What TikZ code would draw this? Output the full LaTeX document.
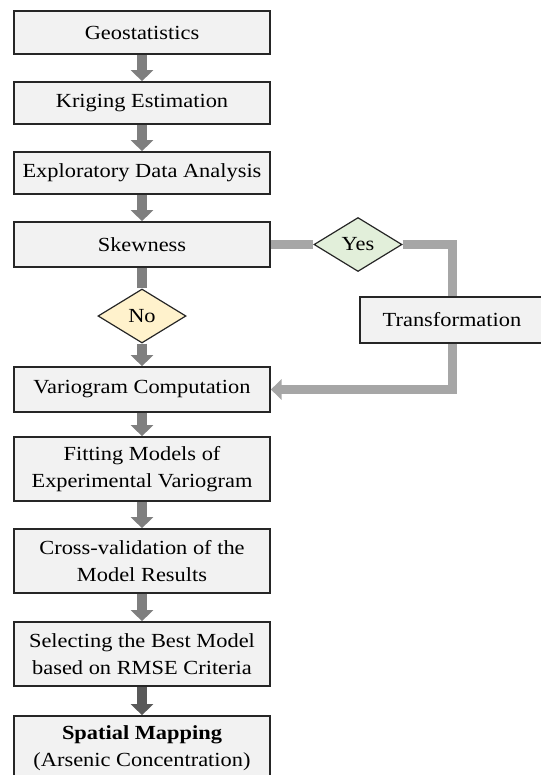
\documentclass[tikz,border=0pt]{standalone}
\usepackage{fontspec}
\setmainfont{Liberation Serif}[FakeStretch=1.12]
\usetikzlibrary{shapes.geometric,arrows.meta}
\definecolor{boxfill}{HTML}{F2F2F2}
\definecolor{boxline}{HTML}{262626}
\definecolor{arrmain}{HTML}{7F7F7F}
\definecolor{arrdark}{HTML}{595959}
\definecolor{arrlight}{HTML}{A6A6A6}
\definecolor{nofill}{HTML}{FFF2CC}
\definecolor{yesfill}{HTML}{E2EFDA}
\tikzset{
  box/.style={draw=boxline, line width=1.3pt, fill=boxfill, minimum width=192pt,
    align=center, inner sep=2pt, font=\fontsize{15pt}{20pt}\selectfont},
  dec/.style={draw=boxline, line width=0.9pt, shape=diamond, inner sep=0pt,
    minimum width=66pt, minimum height=40.5pt, font=\fontsize{15pt}{20pt}\selectfont},
  flow/.style={draw=arrmain, line width=7.5pt, -{Triangle[width=16.5pt,length=8.25pt]}},
  flowdark/.style={flow, draw=arrdark},
  side/.style={draw=arrlight, line width=6.75pt, line join=miter},
}
\begin{document}
\begin{tikzpicture}[x=0.75pt, y=-0.75pt]
\useasboundingbox (0,0) rectangle (540,775);
\node[box, minimum height=32.25pt] (geo) at (142,32.5) {Geostatistics};
\node[box, minimum height=31.5pt] (krig) at (142,103) {Kriging Estimation};
\node[box, minimum height=31.5pt] (eda) at (142,173) {Exploratory Data Analysis};
\node[box, minimum height=33.75pt] (skew) at (142,244.5) {Skewness};
\node[dec, fill=nofill] (no) at (142,316) {No};
\node[box, minimum height=33.75pt] (var) at (142,389.5) {Variogram Computation};
\node[box, minimum height=48pt] (fit) at (142,469) {Fitting Models of\\Experimental Variogram};
\node[box, minimum height=48pt] (cross) at (142,561) {Cross-validation of the\\Model Results};
\node[box, minimum height=48pt] (sel) at (142,654) {Selecting the Best Model\\based on RMSE Criteria};
\node[box, minimum height=48pt] (spat) at (142,748) {\textbf{Spatial Mapping}\\(Arsenic Concentration)};
\node[dec, fill=yesfill] (yes) at (358,244.5) {Yes};
\node[box, minimum width=138pt, minimum height=34.5pt] (trans) at (452,320) {Transformation};

\draw[flow] (geo) -- (krig);
\draw[flow] (krig) -- (eda);
\draw[flow] (eda) -- (skew);
\draw[arrmain, line width=7.5pt] (skew) -- (no);
\draw[flow] (no) -- (var);
\draw[flow] (var) -- (fit);
\draw[flow] (fit) -- (cross);
\draw[flow] (cross) -- (sel);
\draw[flowdark] (sel) -- (spat);

\draw[side] (skew.east) -- (yes.west);
\draw[side] (yes.east) -- (yes.east -| trans.north) -- (trans.north);
\draw[side, -{Triangle[width=15pt,length=8pt]}] (trans.south) |- (var.east);
\end{tikzpicture}
\end{document}
